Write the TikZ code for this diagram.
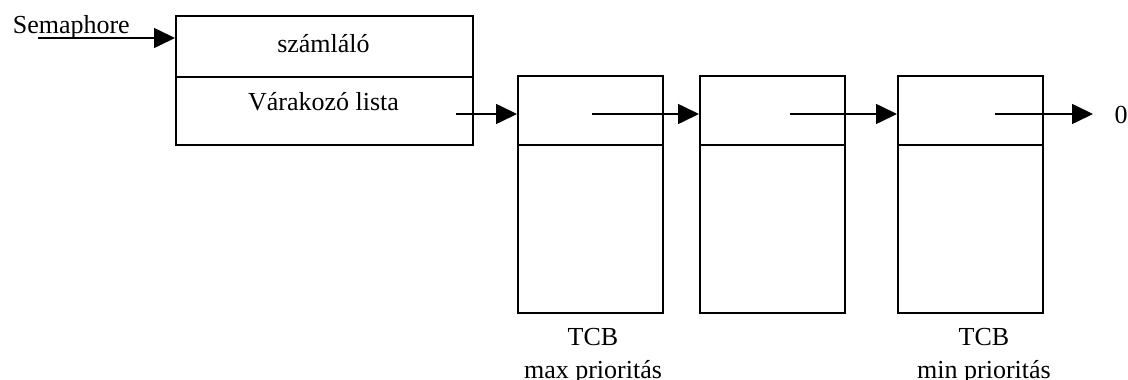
\documentclass[tikz,border=0pt]{standalone}
\usepackage{fontspec}
\setmainfont{Liberation Serif}
\usetikzlibrary{arrows.meta}
\begin{document}
\begin{tikzpicture}[x=1pt,y=-1pt,
  line width=1.6pt,
  cell/.style={draw,rectangle,inner sep=0pt,anchor=north west},
  lbl/.style={inner sep=0pt,anchor=base,font=\fontsize{26}{30}\selectfont},
  ptr/.style={-{Triangle[length=21pt,width=20pt]}}]
\useasboundingbox (0,0) rectangle (1128,380);

% semaphore record
\node[cell,minimum width=297pt,minimum height=61pt] (cnt) at (175,15) {};
\node[cell,minimum width=297pt,minimum height=68pt] (wait) at (175,76) {};
\node[lbl] (cnttxt) at (323.5,52) {számláló};
\node[lbl] (waittxt) at (323.5,110) {Várakozó lista};

% TCB blocks
\foreach \i/\x in {1/517,2/699,3/897}{
  \node[cell,minimum width=145pt,minimum height=69pt] (t\i) at (\x,75) {};
  \node[cell,minimum width=145pt,minimum height=168pt] (b\i) at (\x,144) {};
}

% pointer origins
\coordinate (sem) at (38,38);
\coordinate (p0) at (456,114);
\coordinate (p1) at (592,114);
\coordinate (p2) at (790,114);
\coordinate (p3) at (995,114);

\node[lbl,anchor=base west] (semtxt) at (12,33) {Semaphore};
\node[lbl] (zero) at (1121,123) {0};

\draw[ptr] (sem) -- (sem -| cnt.west);
\draw[ptr] (p0) -- (p0 -| t1.west);
\draw[ptr] (p1) -- (p1 -| t2.west);
\draw[ptr] (p2) -- (p2 -| t3.west);
\draw[ptr] (p3) -- (1093,114) coordinate (nil);

\node[lbl] (tcb1) at (593,345) {TCB};
\node[lbl] (pr1) at (593,378) {max prioritás};
\node[lbl] (tcb3) at (984,345) {TCB};
\node[lbl] (pr3) at (984,378) {min prioritás};
\end{tikzpicture}
\end{document}
